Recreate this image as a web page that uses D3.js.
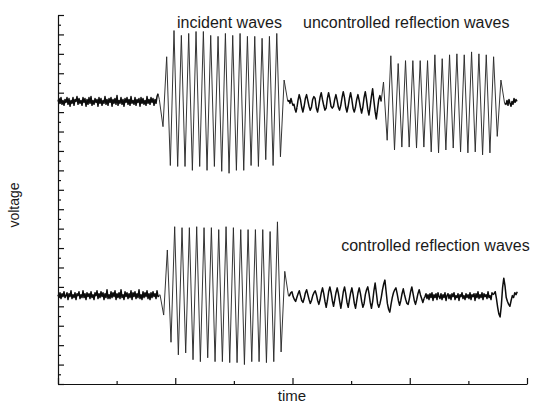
<!DOCTYPE html>
<html>
<head>
<meta charset="utf-8">
<script src="https://cdn.jsdelivr.net/npm/d3@7"></script>
<style>
    html, body {margin: 0; padding: 0; background: #fff;}
    svg {display: block; font-family: "Liberation Sans", Arial, sans-serif;}
</style>
</head>
<body>
<div id="chart"></div>
<script>
// time axis in ms, voltage in mV (both)
const timeTicks = [0, 1, 2, 3, 4, 5, 6, 7, 8];
const voltTicks = d3.range(-190, 191, 10);

// channel offsets (mV)
const upperOffset = 101;
const lowerOffset = -99;

// each trace is a list of sampled segments: start time, sample step, values
const upperNoise = [0, 3, -2, 4, -3, 1, -4, 2, -1, 4, -3, 3, -5, 1, -2, 4, -4, 2, 0, 5,
    -3, 3, -2, 1, -4, 4, -1, 3, -5, 2, -3, 4, -2, 5, -4, 1, -3, 3, -1, 2,
    -5, 4, -2, 3, -4, 1, -2, 5, -3, 2, -4, 3, -1, 4, -5, 2, -2, 3, -3, 6,
    -4, 1, -2, 4, -3, 2, -5, 3, -1, 4, -3, 2, -4, 5, -2, 1, -3, 4, -4, 2,
    -1, 3, -5, 4, -2, 3, -3, 1, -4, 5, -2, 2, -3, 4, -1, 3, -4, 2, -2, 5, 8];
const incidentWave = [2, -26, 46, -66, 73, -67, 68, -67, 70, -71, 72, -67, 72, -71, 68, -67,
    67, -72, 70, -74, 68, -71, 70, -71, 67, -66, 67, -67, 65, -60, 67, -66, 70, -57, 22, 0];
const upperGap = [1, -2, 3, -1, -4, -3, -8, -11, -6];
const upperRipple = [1, 7, 2, -6, -11, -5, 3, 7, 1, -5, -9, -6, 2, 5, 3, -7, -11, -4,
    4, 9, 2, -4, -9, -7, 3, 9, 3, -5, -7, -5, 2, 7, 1, -6, -9, -4,
    4, 10, 4, -6, -11, -5, 3, 9, 2, -7, -11, -6, 2, 7, 1, -6, -12, -6,
    4, 10, 2, -8, -14, -5, 5, 13, 1, -10, -18, -8, 2, 6, 0];
const uncontrolledWave = [20, -40, 47, -50, 39, -47, 42, -47, 42, -48, 42, -47, 42, -52, 48, -53,
    44, -50, 48, -48, 49, -52, 48, -53, 51, -52, 49, -55, 48, -53, 46, -36, 22, -2];
const upperTail = [-3, 1, -4, 2, -2, -5, 0, -3, 3, -1, 2, 0];

const lowerNoise = [1, -2, 3, -3, 2, -1, 4, -2, 0, 3, -4, 2, -1, 5, -3, 1, -2, 3, -4, 2,
    0, 4, -3, 1, -2, 5, -2, 2, -4, 3, -1, 2, -3, 4, -2, 1, -4, 3, 0, 5,
    -3, 2, -2, 4, -1, 3, -4, 2, -2, 6, -3, 1, -3, 4, -2, 3, -1, 5, -4, 2,
    -2, 3, -3, 6, -2, 1, -4, 4, -1, 3, -3, 2, -2, 5, -4, 3, -1, 4, -3, 2,
    -2, 6, -3, 1, -4, 4, -2, 3, -1, 5, -3, 2, -4, 3, -2, 4, -1, 2, -3, 5, -1, 0];
const controlledWave = [1, -20, 47, -48, 71, -61, 70, -59, 70, -66, 71, -68, 70, -64, 70, -68,
    68, -68, 71, -69, 70, -69, 68, -71, 68, -68, 68, -68, 68, -69, 66, -68, 76, -58, 25, 0];
const lowerRipple = [0, 3, 4, -1, -4, -6, -2, 2, 5, 0, -5, -7, -3, 3, 6, 1, -4, -8, -5, 0,
    3, 5, 1, -5, -9, -4, 3, 8, 2, -6, -12, -5, 4, 9, 3, -5, -11, -4, 3, 8,
    2, -6, -13, -5, 4, 9, 2, -7, -12, -4, 3, 8, 1, -8, -13, -5, 3, 8, 2, -6,
    -12, -8, 1, 6, 9, 2, -7, -13, -6, 5, 13, 3, -8, -12, -8, -2, 6, 12, 16, 4,
    -8, -14, -17, -9, -2, 3, 6, 8, 2, -5, -10, -5, 2, 7, 1, -4, -8, -9, -3, 4,
    9, 2, -5, -9, -4, 2, 6, 1, -3, -7, -3];
const lowerQuiet = [-1, 2, -3, 1, -4, 2, -2, 3, -5, 1, -2, 2, -4, 3, -1, -3, 2, -4, 1, -2,
    3, -5, 0, 2, -3, 1, -4, 2, -1, 3, -4, 0, -2, 2, -5, 1, -1, 3, -3, 0,
    -4, 2, -2, 1, -3, 3, -4, 1, -1, 2, -5, 2, -2, 4, -3, 1, -2, 3, -4, 2,
    -1, 1, -3, 4, -2, 0, -4, 3, 1];
const lowerTail = [2, 4, -3, -12, -19, -22, -10, 8, 18, 10, -2, -6, -9, -11, -5, 0, -2, 3, 1, 4];

const upperTrace = [
    {t0: 0, dt: 0.01706, v: upperNoise},
    {t0: 1.7285, dt: 0.0626, v: incidentWave},
    {t0: 3.9403, dt: 0.01706, v: upperGap},
    {t0: 4.0938, dt: 0.020867, v: upperRipple},
    {t0: 5.5522, dt: 0.0626, v: uncontrolledWave},
    {t0: 7.6418, dt: 0.01706, v: upperTail}
];
const lowerTrace = [
    {t0: 0, dt: 0.01706, v: lowerNoise},
    {t0: 1.7399, dt: 0.0626, v: controlledWave},
    {t0: 3.9488, dt: 0.020867, v: lowerRipple},
    {t0: 6.2601, dt: 0.01706, v: lowerQuiet},
    {t0: 7.4371, dt: 0.020867, v: lowerTail}
];

const labels = [
    {text: "incident waves", t: 2.03, v: 177},
    {text: "uncontrolled reflection waves", t: 4.18, v: 177},
    {text: "controlled reflection waves", t: 4.83, v: -53}
];

const W = 537, H = 412;
const svg = d3.select("#chart").append("svg")
    .attr("width", W)
    .attr("height", H);

const x = d3.scaleLinear().domain([0, 8]).range([58, 527]);
const y = d3.scaleLinear().domain([-190, 190]).range([384, 15]);

const line = d3.line()
    .x(d => x(d.t))
    .y(d => y(d.v))
    .curve(d3.curveLinear);

// one path per segment, joined to the previous segment's last sample;
// finely sampled (noisy) parts are drawn a bit heavier like on the scope print
function drawTrace(trace, offset) {
    let prev = null;
    trace.forEach(seg => {
        const pts = seg.v.map((v, i) => ({t: seg.t0 + i * seg.dt, v: v + offset}));
        if (prev) pts.unshift(prev);
        prev = pts[pts.length - 1];
        const fine = seg.dt < 0.03;
        svg.append("path")
            .datum(pts)
            .attr("fill", "none")
            .attr("stroke", fine ? "#0d0d0d" : "#2a2a2a")
            .attr("stroke-width", fine ? 1.5 : 0.95)
            .attr("stroke-linejoin", "round")
            .attr("d", line);
    });
}

drawTrace(upperTrace, upperOffset);
drawTrace(lowerTrace, lowerOffset);

// axes, ticks pointing inward
const yAxis = svg.append("g")
    .attr("transform", "translate(58,0)")
    .call(d3.axisRight(y).tickValues(voltTicks).tickSize(6).tickSizeOuter(0).tickFormat(""));
yAxis.selectAll(".tick line")
    .attr("x2", d => ((d + 190) % 20 === 0) ? 6 : 3);

const xAxis = svg.append("g")
    .attr("transform", "translate(0,384)")
    .call(d3.axisTop(x).tickValues(timeTicks).tickSize(6).tickSizeOuter(0).tickFormat(""));
xAxis.selectAll(".tick line")
    .attr("y2", d => d % 2 === 0 ? -6 : -3);

svg.selectAll(".domain, .tick line")
    .attr("stroke", "#111")
    .attr("stroke-width", 1.2);

svg.selectAll("text.label")
    .data(labels)
    .enter().append("text")
    .attr("class", "label")
    .attr("x", d => x(d.t))
    .attr("y", d => y(d.v))
    .attr("font-size", 16)
    .attr("fill", "#1a1a1a")
    .text(d => d.text);

svg.append("text")
    .attr("x", 292)
    .attr("y", 401)
    .attr("text-anchor", "middle")
    .attr("font-size", 15)
    .attr("fill", "#1a1a1a")
    .text("time");

svg.append("text")
    .attr("transform", "translate(19,205) rotate(-90)")
    .attr("text-anchor", "middle")
    .attr("font-size", 14)
    .attr("fill", "#1a1a1a")
    .text("voltage");
</script>
</body>
</html>
